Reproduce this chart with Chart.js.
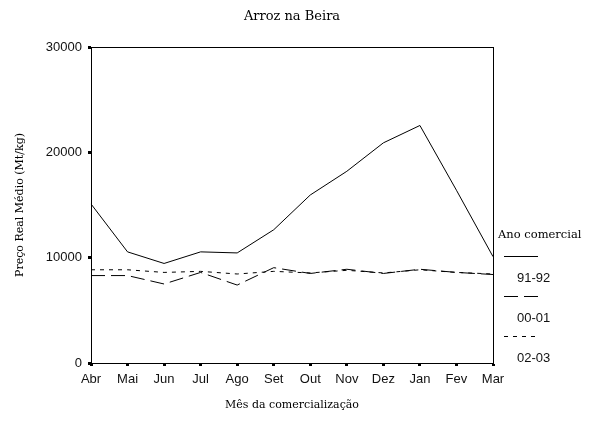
<!DOCTYPE html>
<html>
<head>
<meta charset="utf-8">
<script src="https://cdn.jsdelivr.net/npm/chart.js@4"></script>
<style>
  html, body { margin: 0; padding: 0; background: #fff; }
  #wrap { width: 598px; height: 432px; }
</style>
</head>
<body>
<div id="wrap"><canvas id="chart"></canvas></div>
<script>
const months = ["Abr", "Mai", "Jun", "Jul", "Ago", "Set", "Out", "Nov", "Dez", "Jan", "Fev", "Mar"];
const preco9192 = [15100, 10550, 9450, 10550, 10450, 12650, 15950, 18200, 20900, 22550, 16400, 10100];
const preco0001 = [8300, 8300, 7500, 8600, 7400, 9050, 8500, 8900, 8500, 8900, 8600, 8400];
const preco0203 = [8850, 8850, 8600, 8700, 8450, 8700, 8550, 8800, 8550, 8850, 8600, 8450];
const yTicks = [0, 10000, 20000, 30000];

const serif = "'DejaVu Serif', 'Liberation Serif', serif";
const sans = "'Liberation Sans', Arial, sans-serif";

// box around the plot area + title centred over it
const frame = {
  id: "frame",
  afterDraw(chart) {
    const { ctx, chartArea: a } = chart;
    ctx.save();
    ctx.strokeStyle = "#000";
    ctx.lineWidth = 1;
    ctx.strokeRect(a.left + 0.5, a.top + 0.5, a.right - a.left, a.bottom - a.top);
    ctx.fillStyle = "#000";
    ctx.font = "13px " + serif;
    ctx.textAlign = "center";
    ctx.textBaseline = "middle";
    ctx.fillText("Arroz na Beira", (a.left + a.right) / 2, 17);
    ctx.restore();
  }
};

// legend to the right: title, then line sample above each label
const sideLegend = {
  id: "sideLegend",
  afterDraw(chart) {
    const ctx = chart.ctx;
    ctx.save();
    ctx.fillStyle = "#000";
    ctx.textBaseline = "middle";
    ctx.font = "11.5px " + serif;
    ctx.fillText("Ano comercial", 498, 235);
    chart.data.datasets.forEach((ds, i) => {
      const y = 256 + i * 40;
      ctx.beginPath();
      ctx.setLineDash(ds.borderDash || []);
      ctx.lineWidth = 1;
      ctx.strokeStyle = "#000";
      ctx.moveTo(504, y + 0.5);
      ctx.lineTo(538, y + 0.5);
      ctx.stroke();
      ctx.setLineDash([]);
      ctx.font = "13px " + sans;
      ctx.fillStyle = "#111";
      ctx.fillText(ds.label, 517, y + 22);
    });
    ctx.restore();
  }
};

const line = (label, data, dash) => ({
  label, data,
  borderColor: "#000",
  borderWidth: 1,
  borderDash: dash,
  pointRadius: 0,
  fill: false,
  tension: 0
});

new Chart(document.getElementById("chart"), {
  type: "line",
  data: {
    labels: months,
    datasets: [
      line("91-92", preco9192, []),
      line("00-01", preco0001, [14, 6]),
      line("02-03", preco0203, [4, 5])
    ]
  },
  options: {
    responsive: true,
    maintainAspectRatio: false,
    animation: false,
    layout: { padding: { left: 0, right: 105, top: 47, bottom: 0 } },
    plugins: {
      legend: { display: false },
      tooltip: { enabled: false },
      title: { display: false }
    },
    scales: {
      x: {
        offset: false,
        afterFit(s) { s.height = 69; },
        grid: { drawOnChartArea: false, tickLength: 3, tickWidth: 3, tickColor: "#000" },
        border: { color: "#000" },
        ticks: { color: "#111", font: { family: sans, size: 13 }, padding: 6, maxRotation: 0, autoSkip: false },
        title: {
          display: true,
          text: "Mês da comercialização",
          color: "#000",
          font: { family: serif, size: 11 },
          padding: { top: 0, bottom: 20 }
        }
      },
      y: {
        min: 0,
        max: 30000,
        afterFit(s) { s.width = 91; },
        afterBuildTicks(s) { s.ticks = yTicks.map(v => ({ value: v })); },
        grid: { drawOnChartArea: false, tickLength: 3, tickWidth: 3, tickColor: "#000" },
        border: { color: "#000" },
        ticks: { color: "#111", font: { family: sans, size: 13 }, padding: 6, callback: v => String(v) },
        title: {
          display: true,
          text: "Preço Real Médio (Mt/kg)",
          color: "#000",
          font: { family: serif, size: 11 },
          padding: { top: 14, bottom: 0 }
        }
      }
    }
  },
  plugins: [frame, sideLegend]
});
</script>
</body>
</html>
